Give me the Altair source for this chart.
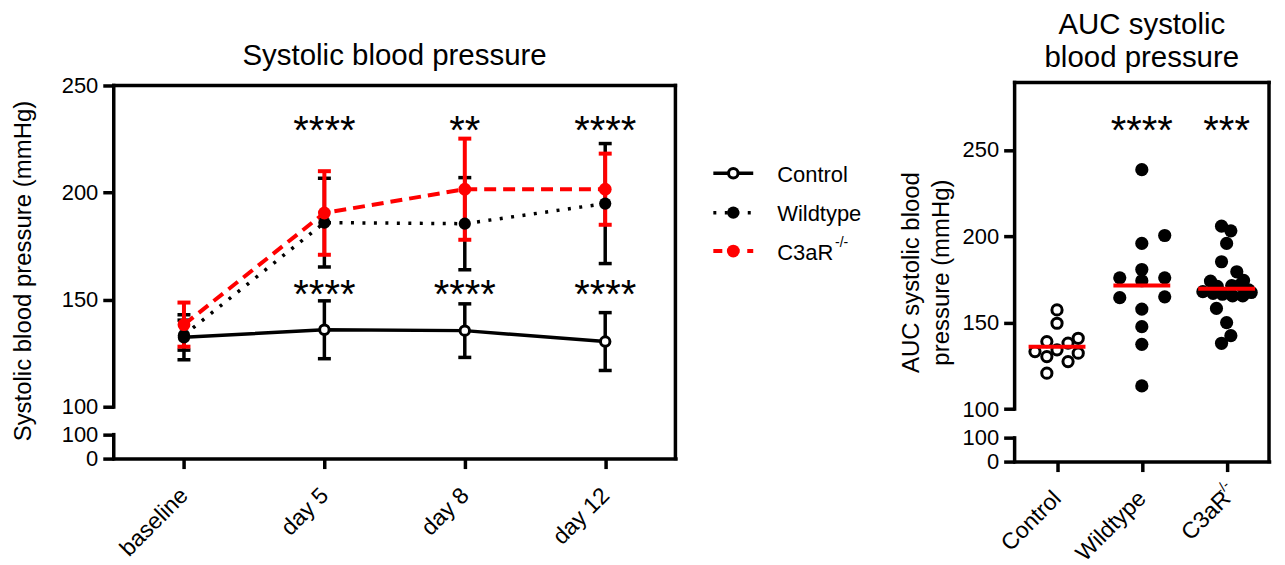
import json
import altair as alt
import pandas as pd

FONT = "Liberation Sans"
RED = "#ff0000"

# ---------------- data ----------------
DAYS = ["baseline", "day 5", "day 8", "day 12"]
CONTROL_MEAN = [132.5, 136.0, 135.6, 130.5]
CONTROL_SD = [10.5, 13.5, 12.5, 13.5]
WT_MEAN = [133.5, 186.0, 185.5, 194.9]
WT_SD = [7.0, 20.7, 21.5, 28.0]
C3_MEAN = [138.4, 190.5, 201.6, 201.6]
C3_SD = [10.3, 19.5, 23.6, 16.6]
STARS_UPPER = ["", "****", "**", "****"]
STARS_LOWER = ["", "****", "****", "****"]

GROUPS = ["Control", "Wildtype", "C3aR"]
AUC_CONTROL = [157.4, 149.7, 139.1, 138.2, 141.0, 133.3, 134.3, 132.4, 130.4, 127.5, 120.8]
AUC_CONTROL_SPREAD = [0, 0, -0.12, 0.13, 0.25, -0.26, 0, 0.25, -0.12, 0.13, -0.12]
AUC_WT = [238.6, 200.5, 195.9, 180.8, 176.0, 176.0, 174.3, 164.5, 165.0, 157.9, 147.7, 137.5, 113.4]
AUC_WT_SPREAD = [0, 0.27, 0, 0, -0.26, 0.27, 0, -0.26, 0.27, 0, 0, 0, 0]
AUC_C3 = [205.9, 203.2, 195.9, 185.3, 179.5, 174.1, 174.5, 171.0, 171.5, 172.0, 168.0,
          167.0, 166.5, 165.5, 165.5, 167.5, 169.0, 158.3, 150.1, 142.5, 138.1]
AUC_C3_SPREAD = [-0.06, 0.05, 0, -0.06, 0.12, -0.19, 0.2, -0.11, 0.06, 0.16, -0.28,
                 -0.16, -0.05, 0.07, 0.19, 0.29, 0.26, -0.12, 0, 0.05, -0.06]
AUC_MEAN = [136.1, 171.6, 169.7]
AUC_STARS = ["", "****", "***"]

LEFT_TITLE = "Systolic blood pressure"
LEFT_YTITLE = "Systolic blood pressure (mmHg)"
RIGHT_TITLE = ["AUC systolic", "blood pressure"]
RIGHT_YTITLE = ["AUC systolic blood", "pressure (mmHg)"]
SUPERSCRIPT = "-/-"

# ---------------- layout ----------------
LW, LH = 563, 377
L_TOP, L_BOTTOM, L_LOW100 = 251.4, 75.88, 87.06
RW, RH = 255, 380
R_TOP, R_BOTTOM, R_LOW100 = 289.1, 69.6, 83.3
LW_LINE = 3.5
XLAB_SIZE = 23
XLAB_PAD = 23
XTICK = 10


def y_axis(title, low100, low0, title_pad):
    return alt.Axis(
        values=[low0, low100, 100, 150, 200, 250], format="d",
        labelExpr=f"datum.value >= 99 ? datum.label : (datum.value > {low0 + 1} ? '100' : '0')",
        domain=False, grid=False, tickSize=11, tickWidth=LW_LINE, tickColor="black",
        labelFontSize=22, labelFont=FONT, labelColor="black", labelPadding=5,
        labelOverlap=False, title=title, titleFont=FONT, titleFontSize=24,
        titleFontWeight="normal", titleColor="black", titlePadding=title_pad,
        titleLineHeight=30)


def x_axis(names):
    return alt.Axis(
        values=list(range(len(names))), labelExpr=f"{json.dumps(names)}[datum.value]",
        grid=False, title=None, domain=True, domainWidth=LW_LINE, domainColor="black",
        domainCap="square", tickSize=XTICK, tickWidth=LW_LINE, tickColor="black",
        labelAngle=-45, labelAlign="right", labelBaseline="middle", labelFontSize=XLAB_SIZE,
        labelFont=FONT, labelColor="black", labelPadding=XLAB_PAD, labelOverlap=False,
        labelFlush=False)


LXS = alt.Scale(domain=[-0.5, len(DAYS) - 0.5], nice=False, zero=False)
LYS = alt.Scale(domain=[L_BOTTOM, L_TOP], nice=False, zero=False)
LXA = x_axis(DAYS)
LYA = y_axis(LEFT_YTITLE, L_LOW100, L_BOTTOM, 26)

RXS = alt.Scale(domain=[-0.5, len(GROUPS) - 0.5], nice=False, zero=False)
RYS = alt.Scale(domain=[R_BOTTOM, R_TOP], nice=False, zero=False)
RXA = x_axis(GROUPS)
RYA = y_axis(RIGHT_YTITLE, R_LOW100, R_BOTTOM, 9)


def LX(f):
    return alt.X(f"{f}:Q", scale=LXS, axis=LXA)


def LY(f):
    return alt.Y(f"{f}:Q", scale=LYS, axis=LYA)


def RX(f):
    return alt.X(f"{f}:Q", scale=RXS, axis=RXA)


def RY(f):
    return alt.Y(f"{f}:Q", scale=RYS, axis=RYA)


def group_df(means, sds):
    return pd.DataFrame({
        "x": list(range(len(DAYS))), "mean": means,
        "lo": [m - s for m, s in zip(means, sds)],
        "hi": [m + s for m, s in zip(means, sds)]})


ctrl = group_df(CONTROL_MEAN, CONTROL_SD)
wt = group_df(WT_MEAN, WT_SD)
c3 = group_df(C3_MEAN, C3_SD)


def errorbars(df, color, width):
    b = alt.Chart(df)
    bar = b.mark_rule(color=color, strokeWidth=width).encode(x=LX("x"), y=LY("lo"), y2="hi")
    cap_lo = b.mark_tick(orient="horizontal", color=color, size=13, thickness=width,
                         opacity=1).encode(x=LX("x"), y=LY("lo"))
    cap_hi = b.mark_tick(orient="horizontal", color=color, size=13, thickness=width,
                         opacity=1).encode(x=LX("x"), y=LY("hi"))
    return [bar, cap_lo, cap_hi]


def frame_rule(ys, ya, x, y, y2=None, x2=None):
    enc = dict(x=x, y=alt.YDatum(y, scale=ys, axis=ya))
    if y2 is not None:
        enc["y2"] = alt.datum(y2)
    if x2 is not None:
        enc["x2"] = x2
    return alt.Chart(pd.DataFrame({"k": [0]})).mark_rule(
        color="black", strokeWidth=LW_LINE, strokeCap="square").encode(**enc)


left_frame = [
    frame_rule(LYS, LYA, alt.value(0), 250, y2=100),
    frame_rule(LYS, LYA, alt.value(0), L_LOW100, y2=L_BOTTOM),
    frame_rule(LYS, LYA, alt.value(0), 250, x2=alt.value(LW)),
    frame_rule(LYS, LYA, alt.value(LW), 250, y2=L_BOTTOM),
]

lines = [
    alt.Chart(ctrl).mark_line(color="black", strokeWidth=3.5).encode(x=LX("x"), y=LY("mean")),
    alt.Chart(wt).mark_line(color="black", strokeWidth=3.5, strokeDash=[3, 8.5]).encode(
        x=LX("x"), y=LY("mean")),
    alt.Chart(c3).mark_line(color=RED, strokeWidth=4, strokeDash=[12, 7]).encode(
        x=LX("x"), y=LY("mean")),
]

points = [
    alt.Chart(ctrl).mark_circle(fill="white", stroke="black", strokeWidth=3, size=90,
                                opacity=1).encode(x=LX("x"), y=LY("mean")),
    alt.Chart(wt).mark_circle(color="black", size=150, opacity=1).encode(x=LX("x"), y=LY("mean")),
    alt.Chart(c3).mark_circle(color=RED, size=165, opacity=1).encode(x=LX("x"), y=LY("mean")),
]

stars_df = pd.DataFrame({"x": list(range(len(DAYS))), "up": STARS_UPPER, "low": STARS_LOWER})
stars = [
    alt.Chart(stars_df).mark_text(font=FONT, fontSize=40, baseline="alphabetic").encode(
        x=LX("x"), y=alt.value(62), text="up:N"),
    alt.Chart(stars_df).mark_text(font=FONT, fontSize=40, baseline="alphabetic").encode(
        x=LX("x"), y=alt.value(226.5), text="low:N"),
]


def legend_entry(name, y, line_kw, point_kw):
    b = alt.Chart(pd.DataFrame({"g": [name]}))
    return [
        b.mark_rule(**line_kw).encode(x=alt.value(601), x2=alt.value(641), y=alt.value(y)),
        b.mark_circle(opacity=1, **point_kw).encode(x=alt.value(621), y=alt.value(y)),
        b.mark_text(font=FONT, fontSize=22, align="left", baseline="middle").encode(
            x=alt.value(665), y=alt.value(y + 1.5), text="g:N"),
    ]


legend = (
    legend_entry(GROUPS[0], 91, dict(color="black", strokeWidth=3.5),
                 dict(fill="white", stroke="black", strokeWidth=3, size=90))
    + legend_entry(GROUPS[1], 130.5, dict(color="black", strokeWidth=3.5, strokeDash=[3, 8.5]),
                   dict(color="black", size=150))
    + legend_entry(GROUPS[2], 169, dict(color=RED, strokeWidth=4, strokeDash=[9, 8]),
                   dict(color=RED, size=165))
    + [alt.Chart(pd.DataFrame({"s": [SUPERSCRIPT]})).mark_text(
        font=FONT, fontSize=14, align="left", baseline="alphabetic").encode(
        x=alt.value(723), y=alt.value(165), text="s:N")]
)

left_title = alt.Chart(pd.DataFrame({"t": [LEFT_TITLE]})).mark_text(
    font=FONT, fontSize=29.5, baseline="alphabetic").encode(
    x=alt.value(LW / 2), y=alt.value(-18), text="t:N")

left = alt.layer(
    *left_frame,
    *errorbars(ctrl, "black", 3.5), *errorbars(wt, "black", 3.5), *errorbars(c3, RED, 4),
    *lines, *points, *stars, *legend, left_title,
).properties(width=LW, height=LH)


# ---------------- right panel ----------------
def scatter_df(vals, spread, idx):
    return pd.DataFrame({"x": [idx + s for s in spread], "v": vals})


sc_ctrl = scatter_df(AUC_CONTROL, AUC_CONTROL_SPREAD, 0)
sc_wt = scatter_df(AUC_WT, AUC_WT_SPREAD, 1)
sc_c3 = scatter_df(AUC_C3, AUC_C3_SPREAD, 2)

right_frame = [
    frame_rule(RYS, RYA, alt.value(0), R_TOP, y2=100),
    frame_rule(RYS, RYA, alt.value(0), R_LOW100, y2=R_BOTTOM),
    frame_rule(RYS, RYA, alt.value(0), R_TOP, x2=alt.value(RW)),
    frame_rule(RYS, RYA, alt.value(RW), R_TOP, y2=R_BOTTOM),
]

auc_df = pd.DataFrame({"x": list(range(len(GROUPS))), "mean": AUC_MEAN, "stars": AUC_STARS})

right_marks = [
    alt.Chart(sc_ctrl).mark_circle(fill="white", stroke="black", strokeWidth=3, size=105,
                                   opacity=1).encode(x=RX("x"), y=RY("v")),
    alt.Chart(sc_wt).mark_circle(color="black", size=175, opacity=1).encode(x=RX("x"), y=RY("v")),
    alt.Chart(sc_c3).mark_circle(color="black", size=175, opacity=1).encode(x=RX("x"), y=RY("v")),
    alt.Chart(auc_df).mark_tick(orient="horizontal", color=RED, size=57, thickness=4,
                                opacity=1).encode(x=RX("x"), y=RY("mean")),
    alt.Chart(auc_df).mark_text(font=FONT, fontSize=40, baseline="alphabetic").encode(
        x=RX("x"), y=alt.value(62), text="stars:N"),
    alt.Chart(pd.DataFrame({"t": [RIGHT_TITLE[0]]})).mark_text(
        font=FONT, fontSize=29.5, baseline="alphabetic").encode(
        x=alt.value(RW / 2), y=alt.value(-49), text="t:N"),
    alt.Chart(pd.DataFrame({"t": [RIGHT_TITLE[1]]})).mark_text(
        font=FONT, fontSize=29.5, baseline="alphabetic").encode(
        x=alt.value(RW / 2), y=alt.value(-16), text="t:N"),
    alt.Chart(pd.DataFrame({"x": [2], "s": [SUPERSCRIPT]})).mark_text(
        font=FONT, fontSize=14, align="left", baseline="middle", angle=315,
        dx=-4.5, dy=-7.5).encode(x=RX("x"), y=alt.value(RH + XTICK + XLAB_PAD), text="s:N"),
]

right = alt.layer(*right_frame, *right_marks).properties(width=RW, height=RH)

chart = alt.hconcat(left, right, spacing=340, bounds="flush").properties(
    padding={"left": 3, "top": 1, "right": 5, "bottom": 2}
).configure_view(stroke=None)

chart.save("out.html", embed_options={"renderer": "svg", "actions": False})
